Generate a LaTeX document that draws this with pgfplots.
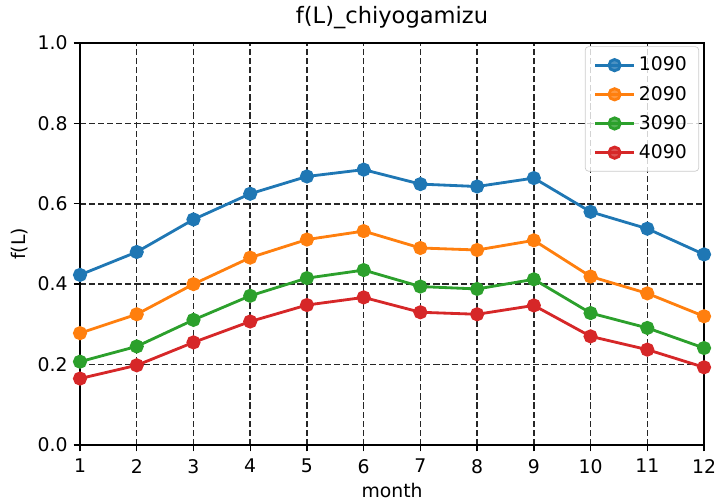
\documentclass[border=0pt]{standalone}
\usepackage{pgfplots}
\pgfplotsset{compat=1.18}
\usepackage{fontspec}
\setmainfont{DejaVu Sans}
\definecolor{c1}{HTML}{1F77B4}
\definecolor{c2}{HTML}{FF7F0E}
\definecolor{c3}{HTML}{2CA02C}
\definecolor{c4}{HTML}{D62728}
\begin{document}
\begin{tikzpicture}
\begin{axis}[
  name=ax,
  scale only axis,
  width=365pt, height=235pt,
  xmin=1, xmax=12, ymin=0, ymax=1,
  xtick={1,2,...,12},
  ytick={0,0.2,0.4,0.6,0.8,1.0},
  yticklabel style={/pgf/number format/.cd,fixed,fixed zerofill,precision=1},
  /pgf/number format/assume math mode=true,
  tick label style={font=\fontsize{11}{13}\selectfont},
  label style={font=\fontsize{11}{13}\selectfont},
  title style={font=\fontsize{13.2}{15}\selectfont, yshift=-1pt},
  title={f(L)\_chiyogamizu},
  xlabel={month}, ylabel={f(L)},
  xlabel style={yshift=1pt},
  ylabel style={yshift=-1pt},
  xticklabel style={yshift=-1pt},
  tick align=outside,
  tick pos=left,
  major tick length=3.8pt,
  every tick/.style={black, line width=0.8pt},
  axis line style={line width=0.8pt},
  grid=major,
  major grid style={black!85, line width=0.85pt, dash pattern=on 3.6pt off 1.7pt},
  legend style={at={(0.992,0.992)}, anchor=north east, font=\fontsize{11}{13}\selectfont,
    draw=black!20, rounded corners=2pt, fill=white, fill opacity=0.8, text opacity=1,
    row sep=3.4pt, inner xsep=5pt, inner ysep=4pt},
  legend cell align=left,
  legend image code/.code={
    \draw[#1, line width=1.65pt] (0cm,0cm) -- (0.8cm,0cm);
    \fill[#1] (0.4cm,0cm) circle (3.3pt);
  },
  every axis plot/.append style={line width=1.65pt, mark=*, mark size=3.3pt},
]
\addplot[c1, mark options={fill=c1, draw=none}] coordinates {
(1,0.423) (2,0.480) (3,0.561) (4,0.625) (5,0.668) (6,0.685)
(7,0.649) (8,0.643) (9,0.664) (10,0.580) (11,0.538) (12,0.474)};
\addlegendentry{1090}
\addplot[c2, mark options={fill=c2, draw=none}] coordinates {
(1,0.278) (2,0.325) (3,0.400) (4,0.466) (5,0.511) (6,0.532)
(7,0.490) (8,0.485) (9,0.509) (10,0.419) (11,0.377) (12,0.320)};
\addlegendentry{2090}
\addplot[c3, mark options={fill=c3, draw=none}] coordinates {
(1,0.207) (2,0.245) (3,0.311) (4,0.371) (5,0.415) (6,0.435)
(7,0.394) (8,0.388) (9,0.412) (10,0.328) (11,0.291) (12,0.241)};
\addlegendentry{3090}
\addplot[c4, mark options={fill=c4, draw=none}] coordinates {
(1,0.165) (2,0.198) (3,0.255) (4,0.307) (5,0.348) (6,0.367)
(7,0.330) (8,0.325) (9,0.347) (10,0.270) (11,0.237) (12,0.193)};
\addlegendentry{4090}
\end{axis}
\pgfresetboundingbox
\path ([xshift=-46.8pt,yshift=-33.3pt]ax.south west) rectangle ([xshift=7pt,yshift=25.2pt]ax.north east);
\end{tikzpicture}
\end{document}
